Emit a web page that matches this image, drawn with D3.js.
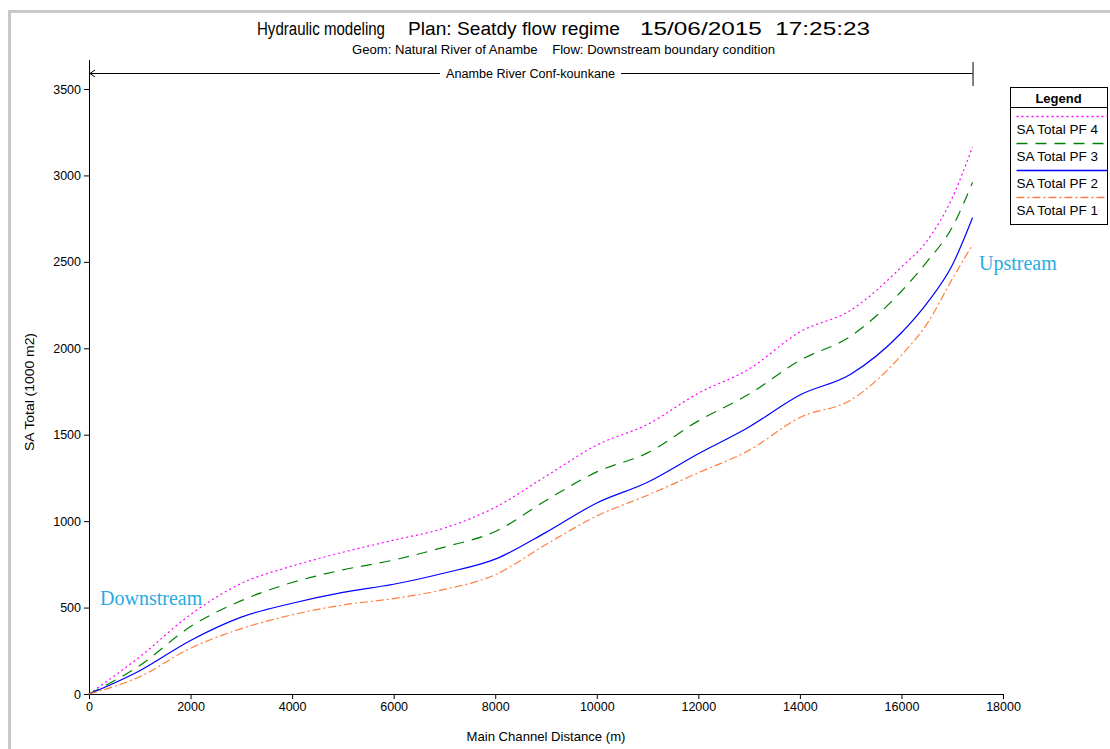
<!DOCTYPE html>
<html>
<head>
<meta charset="utf-8">
<script src="https://cdn.jsdelivr.net/npm/d3@7"></script>
<style>
  body { margin: 0; background: #fff; }
  svg { display: block; font-family: "Liberation Sans", Arial, sans-serif; }
</style>
</head>
<body>
<div id="chart"></div>
<script>
// Main channel distance (m), shared by all profiles
const distances = [0, 1000, 2000, 3000, 4000, 5000, 6000, 7000, 8000, 9000, 10000,
  11000, 12000, 13000, 14000, 15000, 16000, 16500, 17000, 17400];

// SA Total (1000 m2) per profile
const pf4 = [0, 215, 460, 640, 740, 820, 890, 960, 1080, 1260, 1440, 1560, 1740, 1880, 2095, 2220, 2470, 2620, 2870, 3165];
const pf3 = [0, 165, 390, 540, 645, 718, 775, 850, 940, 1120, 1285, 1395, 1580, 1735, 1930, 2070, 2330, 2500, 2700, 2960];
const pf2 = [0, 135, 310, 445, 525, 588, 635, 700, 780, 935, 1105, 1225, 1390, 1545, 1730, 1850, 2090, 2260, 2480, 2755];
const pf1 = [0, 100, 265, 378, 458, 515, 552, 605, 690, 865, 1030, 1150, 1280, 1410, 1600, 1700, 1960, 2140, 2400, 2600];

const seriesNames = ['SA Total PF 4', 'SA Total PF 3', 'SA Total PF 2', 'SA Total PF 1'];
const seriesValues = [pf4, pf3, pf2, pf1];
const seriesColors = ['#ff00ff', '#008000', '#0000ff', '#ff7f3f'];
const seriesDash = ['2,3', '11,8', null, '8,3,2,3'];

const titleParts = ['Hydraulic modeling', 'Plan: Seatdy flow regime', '15/06/2015  17:25:23'];
const xTicks = d3.range(0, 18001, 2000);
const yTicks = d3.range(0, 3501, 500);
const riverEnd = 17400;

const W = 1110, H = 749;
const X0 = 89, X1 = 1003, Y0 = 694, Y1 = 89;

const svg = d3.select('#chart').append('svg').attr('width', W).attr('height', H);

// grey frame (top/left edge of the exported window)
svg.append('rect').attr('x', 9.5).attr('y', 11.5).attr('width', W + 20).attr('height', H + 20)
  .attr('fill', 'none').attr('stroke', '#c8c8c8').attr('stroke-width', 3);

const x = d3.scaleLinear().domain([0, 18000]).range([X0, X1]);
const y = d3.scaleLinear().domain([0, 3500]).range([Y0, Y1]);

// titles
const titleX = [257, 408, 640], titleW = [128, 212, 230];
titleParts.forEach((t, i) => {
  svg.append('text').attr('x', titleX[i]).attr('y', 35)
    .style('font-size', '18px').attr('xml:space', 'preserve')
    .attr('textLength', titleW[i]).attr('lengthAdjust', 'spacingAndGlyphs')
    .text(t);
});
svg.append('text').attr('x', 352).attr('y', 54)
  .style('font-size', '13px').attr('xml:space', 'preserve')
  .attr('textLength', 423).attr('lengthAdjust', 'spacingAndGlyphs')
  .text('Geom: Natural River of Anambe    Flow: Downstream boundary condition');

// reach arrow
const reachLabel = 'Anambe River Conf-kounkane';
svg.append('text').attr('x', 446).attr('y', 78)
  .attr('textLength', 169).attr('lengthAdjust', 'spacingAndGlyphs')
  .style('font-size', '12.5px').text(reachLabel);
svg.append('line').attr('x1', x(0) + 1).attr('x2', 440).attr('y1', 73.5).attr('y2', 73.5).attr('stroke', '#000');
svg.append('line').attr('x1', 621).attr('x2', x(riverEnd)).attr('y1', 73.5).attr('y2', 73.5).attr('stroke', '#000');
svg.append('path').attr('d', `M${x(0) + 6},70 L${x(0) + 1},73.5 L${x(0) + 6},77`).attr('fill', 'none').attr('stroke', '#000');
svg.append('line').attr('x1', x(riverEnd) + 0.5).attr('x2', x(riverEnd) + 0.5).attr('y1', 62).attr('y2', 86).attr('stroke', '#000');

// axes
const gx = svg.append('g').attr('transform', `translate(0,${Y0})`);
gx.call(d3.axisBottom(x).tickValues(d3.range(1000, 18000, 2000)).tickSize(3).tickFormat(''));
gx.call(d3.axisBottom(x).tickValues(xTicks).tickSize(5).tickFormat(d3.format('d')).tickSizeOuter(0));
gx.selectAll('text').style('font-size', '12.5px').attr('fill', '#000');
gx.selectAll('.domain').remove();
svg.append('line').attr('x1', X0).attr('x2', X1).attr('y1', Y0 + 0.5).attr('y2', Y0 + 0.5).attr('stroke', '#000');

const gy = svg.append('g').attr('transform', `translate(${X0},0)`);
gy.call(d3.axisLeft(y).tickValues(d3.range(0, 3601, 100).filter(v => v % 500)).tickSize(3).tickFormat(''));
gy.call(d3.axisLeft(y).tickValues(yTicks).tickSize(5).tickFormat(d3.format('d')).tickSizeOuter(0));
gy.selectAll('text').style('font-size', '12.5px').attr('fill', '#000');
gy.selectAll('.domain').remove();
svg.append('line').attr('x1', X0 + 0.5).attr('x2', X0 + 0.5).attr('y1', 60).attr('y2', Y0 + 1).attr('stroke', '#000');

svg.append('text').attr('x', 546).attr('y', 741).attr('text-anchor', 'middle')
  .attr('textLength', 159).attr('lengthAdjust', 'spacingAndGlyphs')
  .style('font-size', '13px').text('Main Channel Distance (m)');
svg.append('text').attr('transform', 'translate(34,392) rotate(-90)').attr('text-anchor', 'middle')
  .attr('textLength', 118).attr('lengthAdjust', 'spacingAndGlyphs')
  .style('font-size', '13px').text('SA Total (1000 m2)');

// profile lines
const line = d3.line().x(d => x(d[0])).y(d => y(d[1])).curve(d3.curveMonotoneX);
seriesValues.forEach((vals, i) => {
  svg.append('path')
    .datum(distances.map((d, j) => [d, vals[j]]))
    .attr('d', line)
    .attr('fill', 'none')
    .attr('stroke', seriesColors[i])
    .attr('stroke-width', 1.2)
    .attr('stroke-dasharray', seriesDash[i]);
});

// annotations
svg.append('text').attr('x', 100).attr('y', 605).style('font-family', '"Liberation Serif", serif')
  .style('font-size', '20px').attr('fill', '#29abe2').text('Downstream');
svg.append('text').attr('x', 979).attr('y', 270).style('font-family', '"Liberation Serif", serif')
  .style('font-size', '20px').attr('fill', '#29abe2').text('Upstream');

// legend
const lg = svg.append('g').attr('transform', 'translate(1010.5,87.5)');
lg.append('rect').attr('width', 97).attr('height', 137).attr('fill', '#fff').attr('stroke', '#000');
lg.append('line').attr('x1', 0).attr('x2', 97).attr('y1', 20).attr('y2', 20).attr('stroke', '#000');
lg.append('text').attr('x', 48).attr('y', 15).attr('text-anchor', 'middle')
  .style('font-size', '13px').style('font-weight', 'bold').text('Legend');
seriesNames.forEach((name, i) => {
  const yy = 29 + i * 27;
  lg.append('line').attr('x1', 6).attr('x2', 97).attr('y1', yy).attr('y2', yy)
    .attr('stroke', seriesColors[i]).attr('stroke-width', 1.3).attr('stroke-dasharray', seriesDash[i]);
  lg.append('text').attr('x', 6).attr('y', yy + 17).style('font-size', '13.5px').text(name);
});
</script>
</body>
</html>
